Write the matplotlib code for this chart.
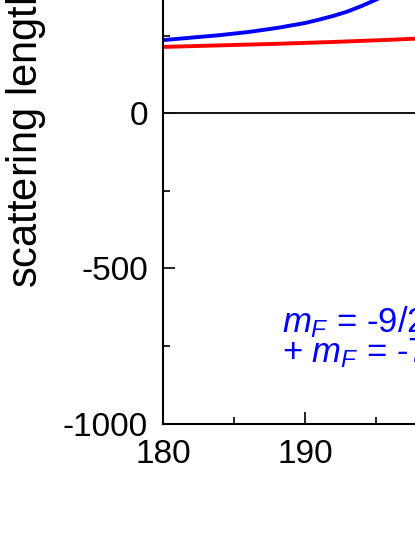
import matplotlib
matplotlib.use("Agg")
from matplotlib import pyplot as plt
from matplotlib.ticker import MultipleLocator

plt.rcParams['font.family'] = ['Liberation Sans', 'DejaVu Sans']
plt.rcParams['mathtext.fontset'] = 'custom'
plt.rcParams['mathtext.rm'] = 'Liberation Sans'
plt.rcParams['mathtext.it'] = 'Liberation Sans:italic'
plt.rcParams['axes.unicode_minus'] = False

# magnetic field (G) and scattering length
field_blue = [180, 182, 184, 186, 188, 190, 191, 192, 193, 194, 195, 195.5, 196, 196.5]
a_blue = [236, 244, 252, 262, 275, 291, 302, 314, 328, 346, 366, 378, 392, 410]

field_red = [180, 184, 188, 192, 196, 198, 200]
a_red = [214, 219, 224, 230, 237, 241, 245]

xticks_major = [180, 190, 200, 210]
yticks_major = [-1000, -500, 0, 500, 1000]

fig = plt.figure(figsize=(4.15, 5.37), dpi=100)
ax = fig.add_axes([163.3 / 415, 113.5 / 537, 425 / 415, 620.4 / 537])

ax.axhline(0, color='#111111', lw=1.4)
ax.plot(field_blue, a_blue, color='#0000ff', lw=2.8)
ax.plot(field_red, a_red, color='#ff0000', lw=2.8)

ax.set_xlim(180, 210)
ax.set_ylim(-1000, 1000)
ax.set_xticks(xticks_major)
ax.set_yticks(yticks_major)
ax.xaxis.set_minor_locator(MultipleLocator(5))
ax.yaxis.set_minor_locator(MultipleLocator(250))
ax.tick_params(which='both', direction='in', width=1.2, labelsize=24)
ax.tick_params(which='major', length=8.5)
ax.tick_params(which='minor', length=5)
ax.tick_params(axis='x', pad=11)
ax.tick_params(axis='y', pad=11)
for s in ax.spines.values():
    s.set_linewidth(1.5)

ax.text(188.4, -705, r'$m_F$ = -9/2', color='#0000ff', fontsize=25)
ax.text(188.4, -802, r'+ $m_F$ = -7/2', color='#0000ff', fontsize=25)

fig.text(48 / 415, (537 - 288) / 537, r'scattering length ($a_0$)',
         rotation=90, ha='right', va='bottom', fontsize=30)

fig.savefig('out.png', dpi=100)
